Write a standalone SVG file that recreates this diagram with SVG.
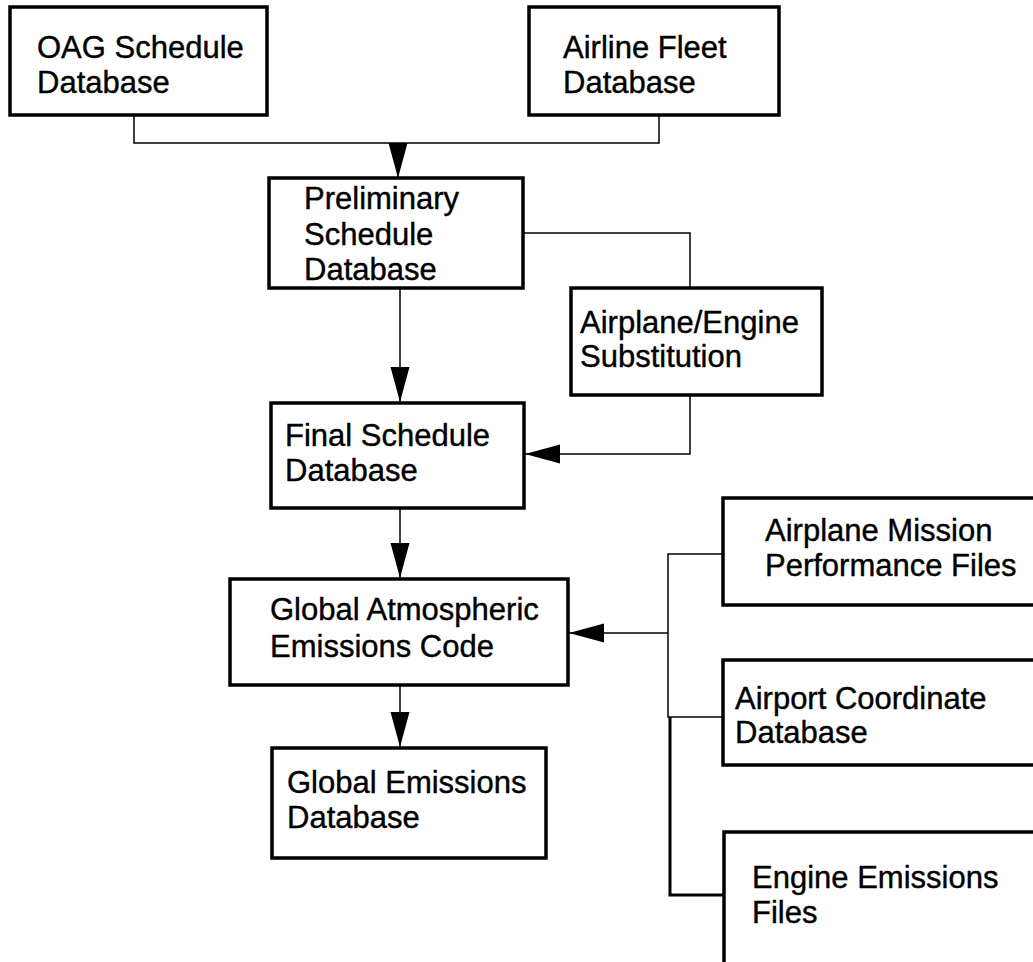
<svg xmlns="http://www.w3.org/2000/svg" width="1033" height="962" viewBox="0 0 1033 962">
<style>
  .box { fill: #ffffff; stroke: #000000; stroke-width: 3.5; }
  .lbl { font-family: "Liberation Sans", Arial, Helvetica, sans-serif; font-size: 31px; fill: #000000; stroke: #000000; stroke-width: 0.4; }
  .con { fill: none; stroke: #000000; stroke-width: 1.5; }
  .conb { fill: none; stroke: #000000; stroke-width: 3; }
</style>
<defs>
  <marker id="arr" markerUnits="userSpaceOnUse" markerWidth="36" markerHeight="20" refX="35" refY="9.5" orient="auto">
    <path d="M0,0 L35,9.5 L0,19 Z" fill="#000000"/>
  </marker>
</defs>
<rect width="1033" height="962" fill="#ffffff"/>

<g id="connectors">
  <path class="con" d="M134,115 V143 H659 V115"/>
  <path class="con" d="M398,143 V178" marker-end="url(#arr)"/>
  <path class="con" d="M400,288 V402" marker-end="url(#arr)"/>
  <path class="con" d="M523,233 H690 V288"/>
  <path class="con" d="M690,395 V454 H525" marker-end="url(#arr)"/>
  <path class="con" d="M400,508 V578" marker-end="url(#arr)"/>
  <path class="con" d="M400,685 V747" marker-end="url(#arr)"/>
  <path class="con" d="M668,633 H569" marker-end="url(#arr)"/>
  <path class="con" d="M723,554 H668 V717 H723"/>
  <path class="conb" d="M670,717 V895 H723"/>
</g>

<g id="oag">
  <rect class="box" x="10" y="7" width="257" height="108"/>
  <text class="lbl" x="37" y="58">OAG Schedule</text>
  <text class="lbl" x="37" y="93">Database</text>
</g>
<g id="fleet">
  <rect class="box" x="529" y="7" width="250" height="108"/>
  <text class="lbl" x="563" y="58">Airline Fleet</text>
  <text class="lbl" x="563" y="93">Database</text>
</g>
<g id="prelim">
  <rect class="box" x="269" y="178" width="254" height="110"/>
  <text class="lbl" x="304" y="209">Preliminary</text>
  <text class="lbl" x="304" y="245">Schedule</text>
  <text class="lbl" x="304" y="280">Database</text>
</g>
<g id="subst">
  <rect class="box" x="571" y="288" width="251" height="107"/>
  <text class="lbl" x="580" y="333">Airplane/Engine</text>
  <text class="lbl" x="580" y="367">Substitution</text>
</g>
<g id="final">
  <rect class="box" x="271" y="403" width="253" height="105"/>
  <text class="lbl" x="285" y="446">Final Schedule</text>
  <text class="lbl" x="285" y="481">Database</text>
</g>
<g id="gaec">
  <rect class="box" x="230" y="579" width="338" height="106"/>
  <text class="lbl" x="270" y="620">Global Atmospheric</text>
  <text class="lbl" x="270" y="657">Emissions Code</text>
</g>
<g id="ged">
  <rect class="box" x="272" y="748" width="274" height="110"/>
  <text class="lbl" x="287" y="793">Global Emissions</text>
  <text class="lbl" x="287" y="828">Database</text>
</g>
<g id="mission">
  <rect class="box" x="723" y="498" width="320" height="107"/>
  <text class="lbl" x="765" y="541">Airplane Mission</text>
  <text class="lbl" x="765" y="576">Performance Files</text>
</g>
<g id="airport">
  <rect class="box" x="723" y="660" width="320" height="105"/>
  <text class="lbl" x="735" y="709">Airport Coordinate</text>
  <text class="lbl" x="735" y="743">Database</text>
</g>
<g id="engine">
  <rect class="box" x="724" y="832" width="320" height="140"/>
  <text class="lbl" x="752" y="888">Engine Emissions</text>
  <text class="lbl" x="752" y="923">Files</text>
</g>
</svg>
